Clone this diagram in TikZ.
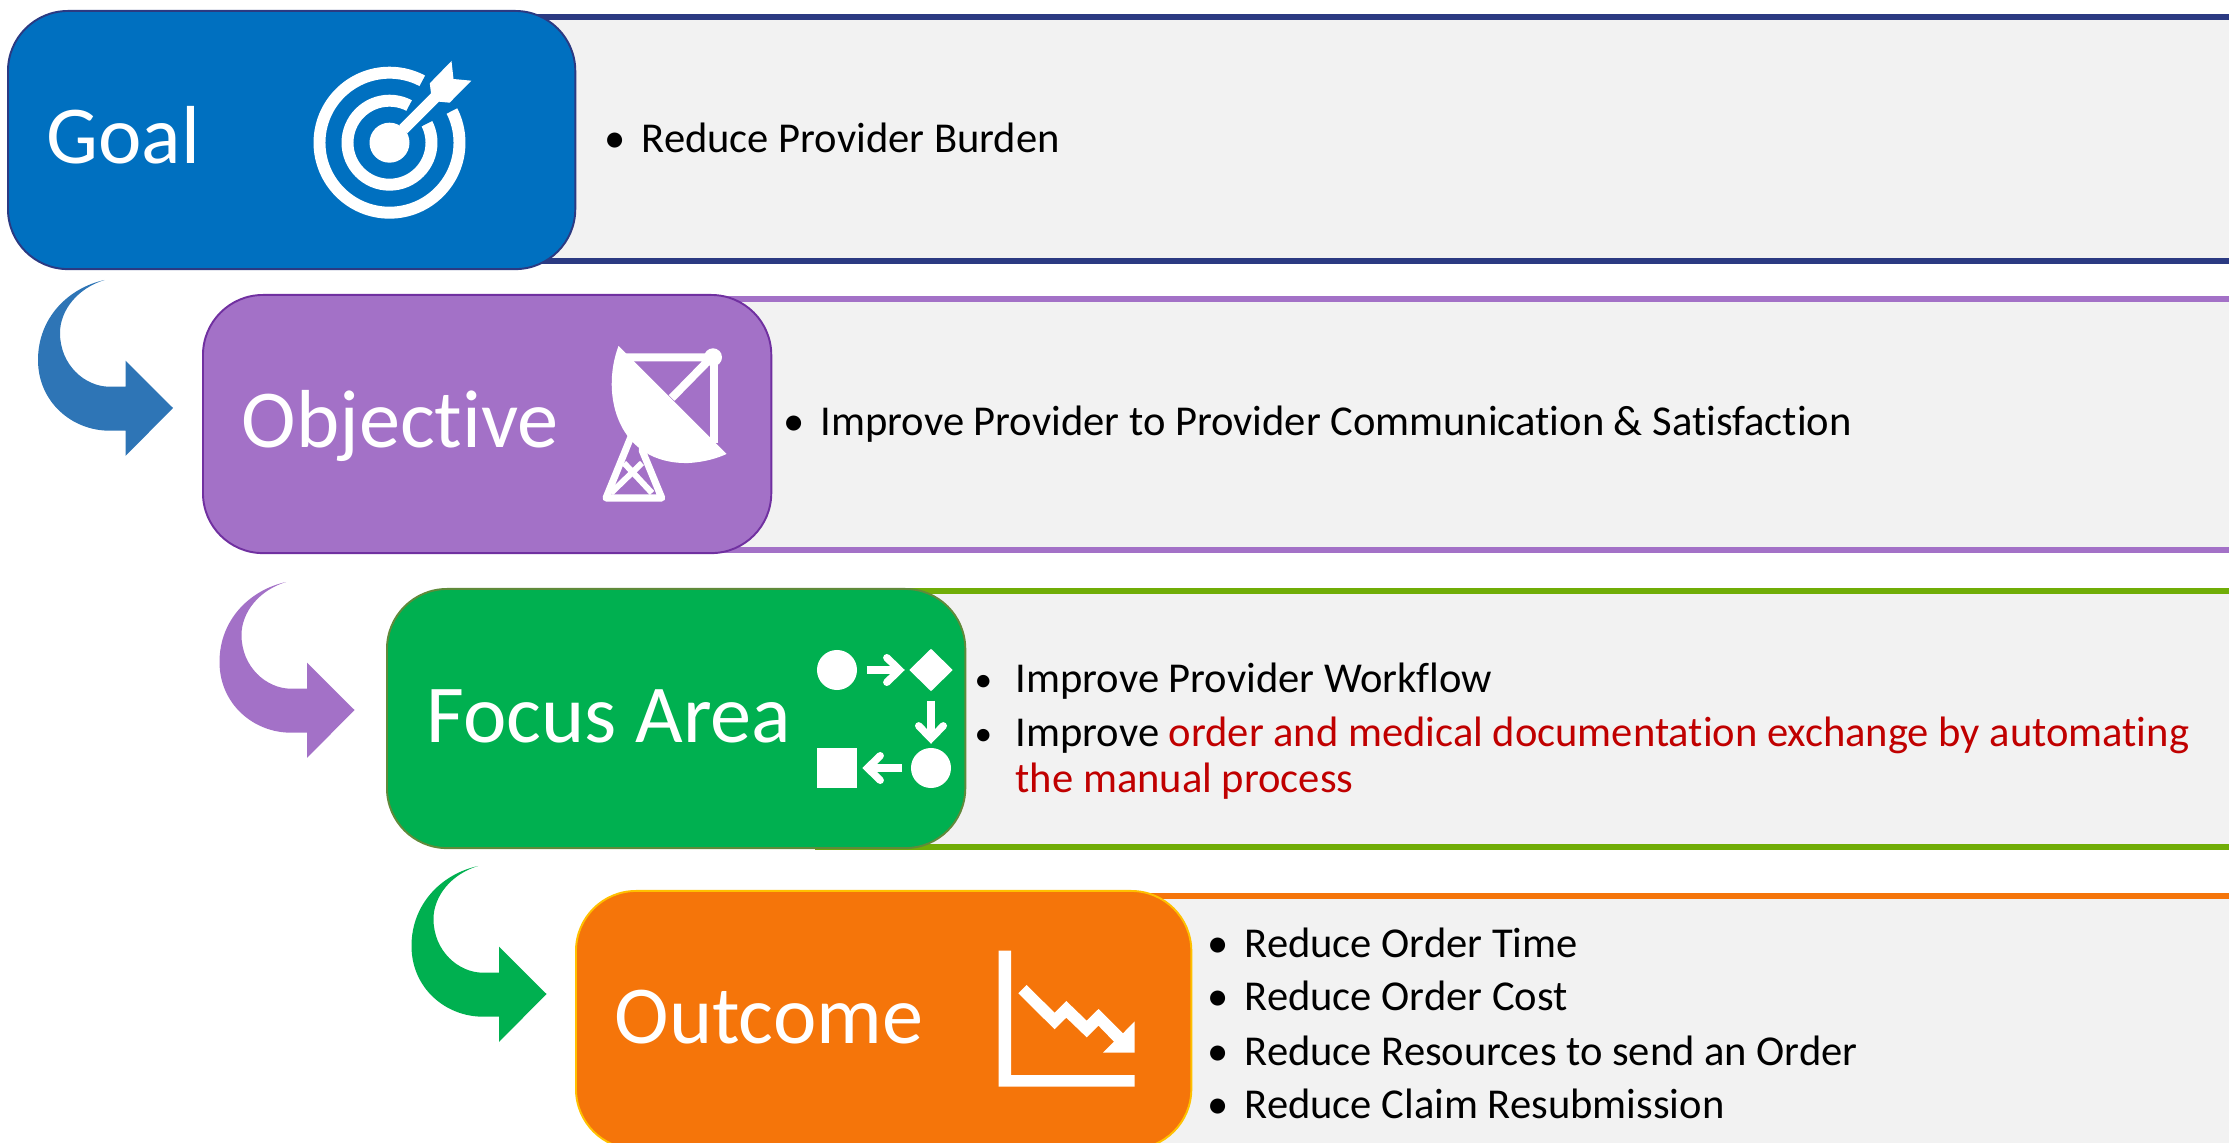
\documentclass[tikz,border=0pt]{standalone}
\usepackage{fontspec}
\setmainfont{Carlito}[Ligatures=NoCommon]
\usepackage{tikz}
\usetikzlibrary{arrows.meta,shapes.geometric}
\definecolor{goalblue}{HTML}{0070C0}
\definecolor{goalline}{HTML}{2B3A82}
\definecolor{objpurple}{HTML}{A371C7}
\definecolor{objline}{HTML}{7030A0}
\definecolor{focusgreen}{HTML}{00B050}
\definecolor{focusline}{HTML}{70AD07}
\definecolor{focusedge}{HTML}{5F8A3A}
\definecolor{outorange}{HTML}{F5750A}
\definecolor{outedge}{HTML}{FFC000}
\definecolor{bentblue}{HTML}{2E75B6}
\definecolor{bandgray}{HTML}{F2F2F2}
\definecolor{exchred}{HTML}{C00000}
\tikzset{>=latex,
    stagebox/.style={rectangle,rounded corners=0.6cm,line width=0.55pt,inner sep=0pt,anchor=north west},
    stagelabel/.style={anchor=base west,inner sep=0pt,text=white,font=\fontsize{23.4}{28}\selectfont},
    bodyline/.style={anchor=base west,inner sep=0pt,text=black,font=\fontsize{12.1}{14}\selectfont},
    smallbullet/.style={anchor=base west,inner sep=0pt,text=black,font=\fontsize{10}{12}\selectfont},
    flowshape/.style={fill=white,inner sep=0pt},
    flowline/.style={white,line width=2.1pt,-{Straight Barb[length=3.6pt,width=7pt,line cap=round]}}
}
\begin{document}
\begin{tikzpicture}[x=0.01cm,y=-0.01cm]
    \useasboundingbox (0,0) rectangle (2229,1143);

    % bands behind the boxes
    \foreach \bx/\bt/\bb/\col in {300/17/261/goalline,694/299/550/objpurple,815/591/847/focusline,1000/896/1160/outorange}{
        \fill[bandgray] (\bx,\bt) rectangle (2229,\bb);
        \draw[\col,line width=1.7pt] (\bx,\bt) -- (2229,\bt);
        \draw[\col,line width=1.7pt] (\bx,\bb) -- (2229,\bb);
    }

    % bent arrows between the stages
    \foreach \dx/\dy/\col in {0/0/bentblue,181.5/302/objpurple,373.5/586/focusgreen}{
        \fill[\col,shift={(\dx,\dy)}] (104.6,280) .. controls (68,288) and (38,318) .. (38,360)
            .. controls (38,402) and (72,430.7) .. (109.5,430.7) -- (125.5,430.7) -- (125.5,456)
            -- (173,408) -- (125.5,360.7) -- (125.5,386.7) -- (109.5,386.7)
            .. controls (85,386.7) and (60,365) .. (60,333)
            .. controls (60,310) and (78,288) .. (104.6,280) -- cycle;
    }

    % boxes
    \node[stagebox,draw=goalline,fill=goalblue,minimum width=5.67cm,minimum height=2.58cm] (goalbox) at (7,10) {};
    \node[stagebox,draw=objline,fill=objpurple,minimum width=5.68cm,minimum height=2.58cm] (objbox) at (202,294) {};
    \node[stagebox,draw=focusedge,fill=focusgreen,minimum width=5.78cm,minimum height=2.59cm] (focusbox) at (386,588) {};
    \node[stagebox,draw=outedge,fill=outorange,minimum width=6.15cm,minimum height=2.58cm] (outbox) at (575,890) {};

    \node[stagelabel] (goallabel) at (46,164) {Goal};
    \node[stagelabel] (objlabel) at (241,448) {Objective};
    \node[stagelabel] (focuslabel) at (426,743) {Focus Area};
    \node[stagelabel] (outlabel) at (614,1043) {Outcome};

    % target icon
    \draw[white,line width=3.4pt] (389.5,142.7) circle[radius=70];
    \draw[white,line width=3.4pt] (389.5,142.7) circle[radius=42];
    \fill[goalblue] (389.5,142.7) -- +(-62:95) -- +(-45:120) -- +(-27:95) -- cycle;
    \fill[white] (389.5,142.7) circle[radius=20];
    \fill[white] (399.4,125) -- (431,93.3) -- (429.8,83.3) -- (451.5,61) -- (453.5,79) -- (471.3,80.7)
        -- (449.6,102.7) -- (439,101.7) -- (407.3,133.3) -- cycle;

    % dish icon
    \fill[white] (618.5,346) .. controls (600,395) and (618,465) .. (689,463)
        .. controls (705,462) and (718,458) .. (726.5,454) -- cycle;
    \draw[white,line width=2.3pt] (624.5,357.3) -- (711.6,357.3) -- (671.7,398);
    \draw[white,line width=2.3pt] (714,360) -- (714,443);
    \fill[white] (713,357.3) circle[radius=9];
    \draw[white,line width=2pt,line join=round,line cap=round] (631,436.7) -- (606,498) -- (661.8,498) -- (642,450);
    \draw[white,line width=1.7pt] (624,463) -- (652,493) (642,463) -- (611,493);

    % process icon
    \node[flowshape,circle,minimum size=0.4cm] (flowstart) at (837,670) {};
    \node[flowshape,diamond,minimum width=0.44cm,minimum height=0.43cm] (flowdiamond) at (931,670) {};
    \node[flowshape,circle,minimum size=0.4cm] (flowcircle) at (931,768) {};
    \node[flowshape,rectangle,minimum size=0.4cm] (flowsquare) at (837,768) {};
    \draw[flowline,shorten <=2.5pt,shorten >=1pt] (flowstart) -- (flowdiamond);
    \draw[flowline,shorten <=2.4pt,shorten >=1pt] (flowdiamond) -- (flowcircle);
    \draw[flowline,shorten <=2.3pt,shorten >=1.3pt] (flowcircle) -- (flowsquare);

    % chart icon
    \fill[white] (998.5,950.7) -- (1011,950.7) -- (1011,1075) -- (1134.7,1075) -- (1134.7,1086.7) -- (998.5,1086.7) -- cycle;
    \fill[white] (1026.5,985) -- (1054.6,1012.7) -- (1066.3,1001) -- (1086.7,1020.7) -- (1098.5,1009) -- (1123,1033.3)
        -- (1134.7,1021.3) -- (1134.7,1052.7) -- (1103,1052.7) -- (1114,1041.7) -- (1098.5,1025.7) -- (1086.7,1037.3)
        -- (1066.3,1017.7) -- (1054.6,1029.3) -- (1018.4,993.3) -- cycle;

    % body text
    \node[bodyline] (goalbul) at (604,153) {•};
    \node[bodyline] (goaltext) at (641,153) {Reduce Provider Burden};
    \node[bodyline] (objbul) at (783,436) {•};
    \node[bodyline] (objtext) at (820,436) {Improve Provider to Provider Communication \& Satisfaction};
    \node[smallbullet] (focusbula) at (974,692) {•};
    \node[bodyline] (focustexta) at (1015,693) {Improve Provider Workflow};
    \node[smallbullet] (focusbulb) at (974,745) {•};
    \node[bodyline] (focustextb) at (1015,747) {Improve \textcolor{exchred}{order and medical documentation exchange by automating}};
    \node[bodyline,text=exchred] (focustextc) at (1015,793) {the manual process};
    \node[bodyline] (outbula) at (1207,957) {•};
    \node[bodyline] (outtexta) at (1244,957) {Reduce Order Time};
    \node[bodyline] (outbulb) at (1207,1011) {•};
    \node[bodyline] (outtextb) at (1244,1011) {Reduce Order Cost};
    \node[bodyline] (outbulc) at (1207,1065) {•};
    \node[bodyline] (outtextc) at (1244,1065) {Reduce Resources to send an Order};
    \node[bodyline] (outbuld) at (1207,1118) {•};
    \node[bodyline] (outtextd) at (1244,1118) {Reduce Claim Resubmission};

\end{tikzpicture}
\end{document}
